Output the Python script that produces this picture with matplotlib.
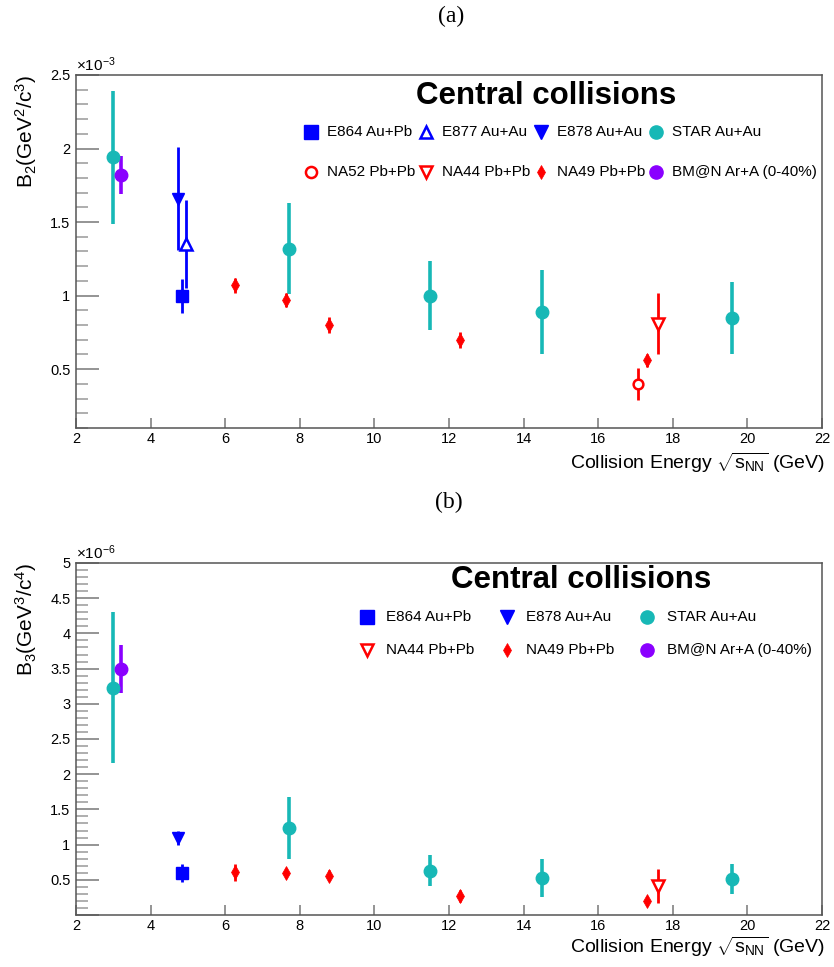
"""Coalescence parameters B2 / B3 vs collision energy, central collisions.

Two stacked panels in ROOT-like style.  Values in units of 1e-3 (B2)
and 1e-6 (B3), multiplier drawn above the y axis.
"""
import matplotlib
matplotlib.use('Agg')
import matplotlib.pyplot as plt
from matplotlib.ticker import MultipleLocator, FuncFormatter

# ---------------- data ----------------
# STAR Au+Au
star_x = [3.0, 7.7, 11.5, 14.5, 19.6]
star_b2 = [1.94, 1.32, 1.00, 0.89, 0.85]
star_b2_err = [0.45, 0.31, 0.235, 0.285, 0.245]
star_b3 = [3.23, 1.23, 0.63, 0.53, 0.51]
star_b3_err = [1.07, 0.44, 0.22, 0.27, 0.21]

# BM@N Ar+A (0-40%)
bmn_x = [3.2]
bmn_b2 = [1.82]
bmn_b2_err = [0.13]
bmn_b3 = [3.50]
bmn_b3_err = [0.34]

# E864 Au+Pb
e864_x = [4.83]
e864_b2 = [1.00]
e864_b2_err = [0.115]
e864_b3 = [0.60]
e864_b3_err = [0.13]

# E877 Au+Au (B2 only)
e877_x = [4.95]
e877_b2 = [1.35]
e877_b2_err = [0.30]

# E878 Au+Au
e878_x = [4.73]
e878_b2 = [1.66]
e878_b2_err = [0.35]
e878_b3 = [1.10]
e878_b3_err = [0.10]

# NA49 Pb+Pb
na49_x = [6.27, 7.62, 8.77, 12.3, 17.3]
na49_b2 = [1.07, 0.97, 0.80, 0.70, 0.56]
na49_b2_err = [0.05, 0.05, 0.055, 0.055, 0.045]
na49_b3 = [0.61, 0.60, 0.56, 0.27, 0.20]
na49_b3_err = [0.12, 0.07, 0.08, 0.08, 0.07]

# NA44 Pb+Pb
na44_x = [17.6]
na44_b2 = [0.81]
na44_b2_err = [0.205]
na44_b3 = [0.41]
na44_b3_err = [0.24]

# NA52 Pb+Pb (B2 only)
na52_x = [17.07]
na52_b2 = [0.40]
na52_b2_err = [0.11]

TEAL = '#17b8b6'
PURPLE = '#8a00ff'
BLUE = '#0000ff'
RED = '#ff0000'

plt.rcParams['font.family'] = ['Liberation Sans', 'DejaVu Sans']
plt.rcParams['mathtext.fontset'] = 'custom'
plt.rcParams['mathtext.rm'] = 'Liberation Sans'
plt.rcParams['mathtext.it'] = 'Liberation Sans:italic'
plt.rcParams['mathtext.bf'] = 'Liberation Sans:bold'

W, H = 834, 967
XLABEL = r'Collision Energy $\sqrt{\mathrm{s}_{\mathrm{NN}}}$ (GeV)'


def ax_pos(top, bottom, left=76, right=822):
    return [left / W, 1 - bottom / H, (right - left) / W, (bottom - top) / H]


def fmt_tick(v, pos):
    if abs(v) < 1e-9:
        return ''
    return '%g' % v


def style_axes(ax, ymin, ymax, xlab_y):
    ax.set_xlim(2, 22)
    ax.set_ylim(ymin, ymax)
    ax.xaxis.set_major_locator(MultipleLocator(2))
    ax.yaxis.set_major_locator(MultipleLocator(0.5))
    ax.yaxis.set_minor_locator(MultipleLocator(0.1))
    ax.yaxis.set_major_formatter(FuncFormatter(fmt_tick))
    ax.xaxis.set_major_formatter(FuncFormatter(lambda v, p: '%g' % v))
    for s in ax.spines.values():
        s.set_color('#555555'); s.set_linewidth(1.1)
    ax.tick_params(axis='y', which='major', direction='in', length=16.5, width=1.1,
                   color='#777777', labelsize=10.5, pad=4)
    ax.tick_params(axis='y', which='minor', direction='in', length=8.5, width=1.1,
                   color='#999999')
    ax.tick_params(axis='x', which='major', direction='in', length=7.5, width=1.1,
                   color='#777777', labelsize=10.5, pad=3)
    ax.text(1.004, xlab_y, XLABEL, fontsize=14,
            transform=ax.transAxes, ha='right', va='center')


def ebar(ax, x, y, e, marker, color, ms, lw, mfc=None, mew=1.0):
    ax.errorbar(x, y, yerr=e, fmt=marker, color=color, ms=ms, elinewidth=lw,
                capsize=0, mfc=mfc if mfc else color, mec=color, mew=mew,
                zorder=3, clip_on=False)


def draw_legend(ax, entries, xs_m, xs_t, ys):
    # entries: rows of (marker, color, mfc, ms, mew, label)
    for r, row in enumerate(entries):
        for c, (mk, col, mfc, ms, mew, lab) in enumerate(row):
            ax.plot([xs_m[c]], [ys[r]], marker=mk, color=col, mfc=mfc, mec=col,
                    ms=ms, mew=mew, ls='none', transform=ax.transAxes, clip_on=False)
            ax.text(xs_t[c], ys[r], lab, transform=ax.transAxes, fontsize=11,
                    va='center', ha='left')


fig = plt.figure(figsize=(W / 100, H / 100), dpi=100)

# ---------------- panel (a) ----------------
ax1 = fig.add_axes(ax_pos(75, 428))
style_axes(ax1, 0.1, 2.5, -0.098)
ebar(ax1, star_x, star_b2, star_b2_err, 'o', TEAL, 9, 2.6)
ebar(ax1, bmn_x, bmn_b2, bmn_b2_err, 'o', PURPLE, 9, 2.6)
ebar(ax1, e877_x, e877_b2, e877_b2_err, '^', BLUE, 8, 2.0, mfc='white', mew=1.8)
ebar(ax1, e878_x, e878_b2, e878_b2_err, 'v', BLUE, 9, 2.0)
ebar(ax1, e864_x, e864_b2, e864_b2_err, 's', BLUE, 8.5, 2.0)
ebar(ax1, na49_x, na49_b2, na49_b2_err, 'd', RED, 7, 2.0, mew=0.5)
ebar(ax1, na44_x, na44_b2, na44_b2_err, 'v', RED, 8.5, 2.0, mfc='white', mew=1.8)
ebar(ax1, na52_x, na52_b2, na52_b2_err, 'o', RED, 7, 2.0, mfc='white', mew=1.8)
ax1.set_ylabel(r'B$_2$(GeV$^2$/c$^3$)', fontsize=15, loc='top', labelpad=8)
ax1.text(0.0, 1.003, r'$\times$10$^{-3}$', transform=ax1.transAxes, fontsize=11,
         ha='left', va='bottom')
ax1.text(0.630, 0.940, 'Central collisions', transform=ax1.transAxes,
         fontsize=22.5, fontweight='bold', ha='center', va='center')
draw_legend(ax1,
            [[('s', BLUE, BLUE, 10, 1.0, 'E864 Au+Pb'), ('^', BLUE, 'white', 8.5, 1.8, 'E877 Au+Au'),
              ('v', BLUE, BLUE, 10, 1.0, 'E878 Au+Au'), ('o', TEAL, TEAL, 9.5, 1.0, 'STAR Au+Au')],
             [('o', RED, 'white', 8, 1.8, 'NA52 Pb+Pb'), ('v', RED, 'white', 8.5, 1.8, 'NA44 Pb+Pb'),
              ('d', RED, RED, 7.5, 0.5, 'NA49 Pb+Pb'), ('o', PURPLE, PURPLE, 9.5, 1.0, 'BM@N Ar+A (0-40%)')]],
            [0.315, 0.469, 0.623, 0.777], [0.336, 0.491, 0.645, 0.799], [0.839, 0.725])

# ---------------- panel (b) ----------------
ax2 = fig.add_axes(ax_pos(563, 915))
style_axes(ax2, 0.0, 5.0, -0.092)
ebar(ax2, star_x, star_b3, star_b3_err, 'o', TEAL, 9, 2.6)
ebar(ax2, bmn_x, bmn_b3, bmn_b3_err, 'o', PURPLE, 9, 2.6)
ebar(ax2, e878_x, e878_b3, e878_b3_err, 'v', BLUE, 9, 2.0)
ebar(ax2, e864_x, e864_b3, e864_b3_err, 's', BLUE, 8.5, 2.0)
ebar(ax2, na49_x, na49_b3, na49_b3_err, 'd', RED, 7, 2.0, mew=0.5)
ebar(ax2, na44_x, na44_b3, na44_b3_err, 'v', RED, 8.5, 2.0, mfc='white', mew=1.8)
ax2.set_ylabel(r'B$_3$(GeV$^3$/c$^4$)', fontsize=15, loc='top', labelpad=8)
ax2.text(0.0, 1.003, r'$\times$10$^{-6}$', transform=ax2.transAxes, fontsize=11,
         ha='left', va='bottom')
ax2.text(0.677, 0.952, 'Central collisions', transform=ax2.transAxes,
         fontsize=22.5, fontweight='bold', ha='center', va='center')
draw_legend(ax2,
            [[('s', BLUE, BLUE, 10, 1.0, 'E864 Au+Pb'), ('v', BLUE, BLUE, 10, 1.0, 'E878 Au+Au'),
              ('o', TEAL, TEAL, 9.5, 1.0, 'STAR Au+Au')],
             [('v', RED, 'white', 8.5, 1.8, 'NA44 Pb+Pb'), ('d', RED, RED, 7.5, 0.5, 'NA49 Pb+Pb'),
              ('o', PURPLE, PURPLE, 9.5, 1.0, 'BM@N Ar+A (0-40%)')]],
            [0.390, 0.578, 0.765], [0.416, 0.603, 0.792], [0.847, 0.753])

# panel tags
fig.text(451 / W, 1 - 16 / H, '(a)', family='Liberation Serif', fontsize=17,
         ha='center', va='center')
fig.text(449 / W, 1 - 502 / H, '(b)', family='Liberation Serif', fontsize=17,
         ha='center', va='center')

fig.savefig('out.png', dpi=100)
